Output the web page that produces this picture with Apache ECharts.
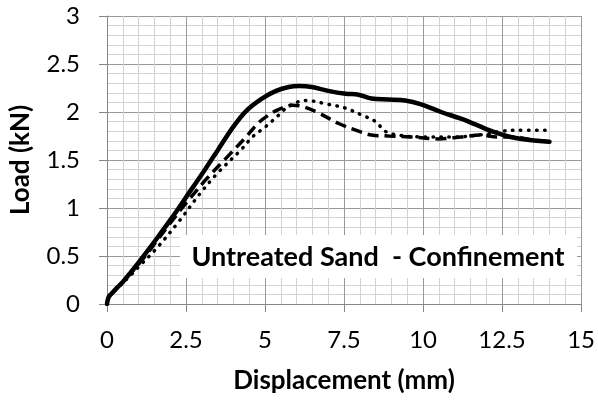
<!DOCTYPE html>
<html>
<head>
<meta charset="utf-8">
<script src="https://cdn.jsdelivr.net/npm/echarts@6/dist/echarts.min.js"></script>
<style>
  html, body { margin: 0; padding: 0; background: #fff; }
  #chart { width: 598px; height: 403px; }
</style>
</head>
<body>
<div id="chart"></div>
<script>
// Load–displacement records, [displacement (mm), load (kN)]
const testSolid = [
  [0, 0], [0.05, 0.07], [0.15, 0.11], [0.35, 0.18], [0.5, 0.23], [0.75, 0.33],
  [1.04, 0.45], [1.57, 0.68], [2.08, 0.91], [2.6, 1.16], [3.14, 1.42], [3.5, 1.6],
  [3.96, 1.83], [4.4, 2.01], [4.9, 2.14], [5.35, 2.22], [5.75, 2.26], [6.07, 2.27],
  [6.48, 2.26], [7.0, 2.22], [7.55, 2.19], [7.96, 2.18], [8.37, 2.14], [8.9, 2.13],
  [9.43, 2.12], [9.94, 2.08], [10.57, 2.0], [11.2, 1.93], [11.73, 1.86], [12.26, 1.79],
  [12.77, 1.74], [13.3, 1.71], [14.0, 1.69]
];
const testDashed = [
  [0, 0], [0.05, 0.07], [0.15, 0.11], [0.35, 0.18], [0.5, 0.23], [0.75, 0.32],
  [1.04, 0.43], [1.4, 0.58], [1.9, 0.8], [2.5, 1.05], [3.14, 1.3], [3.77, 1.52],
  [4.4, 1.74], [4.8, 1.89], [5.22, 1.99], [5.53, 2.04], [5.86, 2.07], [6.16, 2.06],
  [6.7, 1.99], [7.33, 1.88], [7.96, 1.8], [8.37, 1.76], [8.9, 1.75], [9.62, 1.74],
  [10.47, 1.72], [11.2, 1.74], [11.8, 1.76], [12.36, 1.74], [12.9, 1.74],
  [13.4, 1.71], [14.0, 1.69]
];
const testDotted = [
  [0, 0], [0.05, 0.07], [0.15, 0.11], [0.35, 0.17], [0.5, 0.22], [0.75, 0.3],
  [1.04, 0.4], [1.57, 0.58], [2.3, 0.87], [2.92, 1.14], [3.46, 1.35], [4.28, 1.62],
  [4.6, 1.74], [5.03, 1.85], [5.44, 1.97], [5.75, 2.06], [6.29, 2.12], [7.0, 2.08],
  [7.55, 2.04], [8.05, 1.97], [8.5, 1.9], [8.8, 1.8], [9.2, 1.76], [10.0, 1.74],
  [11.0, 1.74], [12.0, 1.77], [12.5, 1.8], [13.0, 1.81], [14.0, 1.81]
];

const xTitle = 'Displacement (mm)';
const yTitle = 'Load (kN)';
const boxLabel = 'Untreated Sand  - Confinement';

const FONT = 'Lato, "Open Sans", sans-serif';
const majorGrid = '#9a9a9a';
const minorGrid = '#d2d2d2';

const chart = echarts.init(document.getElementById('chart'), null, { renderer: 'canvas' });

function axisCommon(labelMargin) {
  return {
    type: 'value',
    axisLine: { show: true, lineStyle: { color: '#868686', width: 1 } },
    axisTick: { show: true, inside: false, length: 8, lineStyle: { color: '#868686' } },
    minorTick: { show: false, splitNumber: 5 },
    splitLine: { show: true, lineStyle: { color: majorGrid, width: 1 } },
    minorSplitLine: { show: true, lineStyle: { color: minorGrid, width: 1 } },
    axisLabel: { color: '#000', fontFamily: FONT, fontSize: 24, margin: labelMargin },
    nameTextStyle: { color: '#000', fontFamily: FONT, fontSize: 26, fontWeight: 'bold' }
  };
}

const option = {
  animation: false,
  backgroundColor: '#fff',
  grid: { left: 107, right: 15, top: 16, bottom: 99, containLabel: false },
  xAxis: Object.assign(axisCommon(24), {
    min: 0, max: 15, interval: 2.5,
    name: xTitle, nameLocation: 'middle', nameGap: 64
  }),
  yAxis: Object.assign(axisCommon(27), {
    min: 0, max: 3, interval: 0.5,
    name: yTitle, nameLocation: 'middle', nameGap: 73, nameRotate: 90
  }),
  series: [
    {
      type: 'line', data: testSolid, showSymbol: false, smooth: 0.35,
      lineStyle: { color: '#000', width: 4.5, type: 'solid', cap: 'round', join: 'round' },
      z: 4
    },
    {
      type: 'line', data: testDashed, showSymbol: false, smooth: 0.35,
      lineStyle: { color: '#000', width: 3.5, type: [11, 6], cap: 'butt' },
      z: 3
    },
    {
      type: 'line', data: testDotted, showSymbol: false, smooth: 0.35,
      lineStyle: { color: '#000', width: 3.5, type: [0.5, 7.5], cap: 'round' },
      z: 3
    }
  ],
  graphic: [
    {
      type: 'rect', left: 180, top: 235, z: 100,
      shape: { width: 397, height: 43 },
      style: { fill: '#fff' }
    },
    {
      type: 'text', x: 378, y: 257, z: 101,
      style: {
        text: boxLabel, fill: '#000', font: 'bold 27px ' + FONT,
        align: 'center', verticalAlign: 'middle'
      }
    }
  ]
};

chart.setOption(option);
</script>
</body>
</html>
